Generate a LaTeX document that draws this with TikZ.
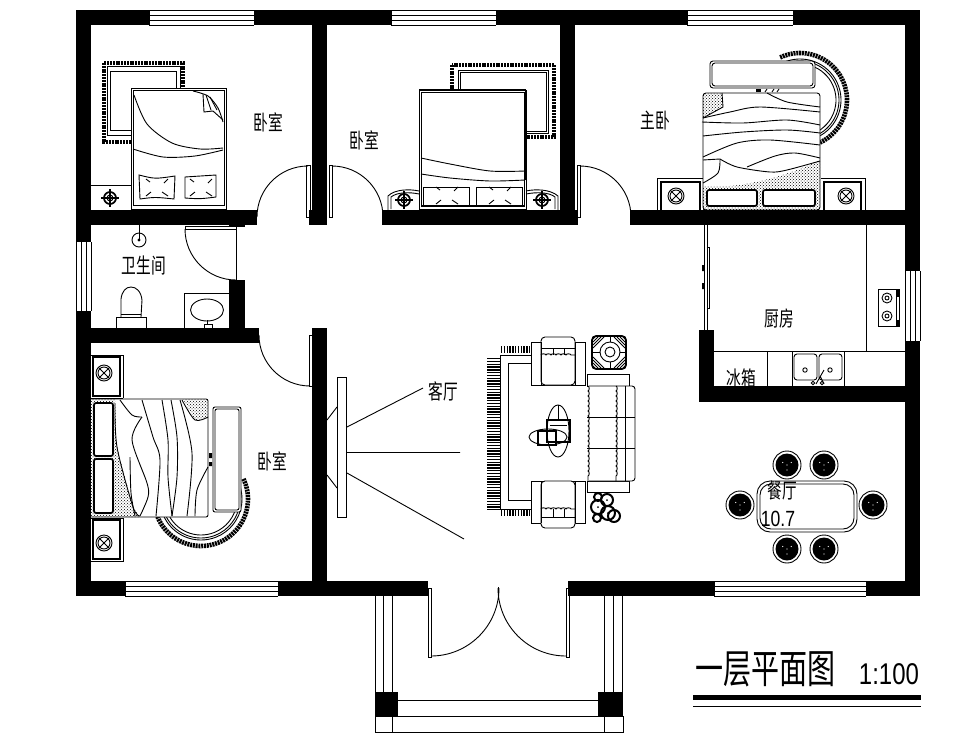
\documentclass[tikz,border=0pt]{standalone}
\usepackage{fontspec}
\setmainfont{Liberation Sans}
\newfontfamily\cjkthin[FakeStretch=.7]{Noto Sans CJK SC}
\newfontfamily\numthin[FakeStretch=.8]{Liberation Sans}
\usetikzlibrary{patterns,decorations.pathmorphing}

\tikzset{
	wallfill/.style={fill=black},
	fringe/.style={line width=4.6pt, dash pattern=on 2pt off .8pt},
	furn/.style={draw=black, fill=white},
	heavy/.style={line width=1.7pt},
	scallop/.style={decorate, decoration={bumps, segment length=10pt, amplitude=1.2pt}},
	dotted area/.style={pattern=crosshatch dots, pattern color=black},
	roomlabel/.style={inner sep=0pt, font=\fontsize{21}{21}\cjkthin},
}

\newcommand{\windowh}[3]{
	\foreach \d in {0,5,10,15}
		\draw (#1,#3+\d) -- (#2,#3+\d);
	\draw (#1,#3) -- (#1,#3+15) (#2,#3) -- (#2,#3+15);
}
\newcommand{\windowv}[3]{
	\foreach \d in {0,5,10,15}
		\draw (#3+\d,#1) -- (#3+\d,#2);
}
\newcommand{\knob}[2]{
	\draw[heavy] (#1,#2) circle (6pt);
	\draw[heavy] (#1-9,#2) -- (#1+9,#2) (#1,#2-9) -- (#1,#2+9);
	\draw (#1,#2) circle (3pt);
}
\newcommand{\crossknob}[3]{
	\draw (#1,#2) circle (#3pt) (#1,#2) circle (#3pt-2pt);
	\draw (#1,#2) ++(45:#3pt) -- ++(225:2*#3pt);
	\draw (#1,#2) ++(135:#3pt) -- ++(315:2*#3pt);
}
\newcommand{\seat}[2]{
	\draw (#1,#2) circle (14pt);
	\fill (#1,#2) circle (11.5pt);
	\foreach \a in {30,150,270}
		\fill[white] (#1,#2) ++(\a:5pt) circle (.6pt);
	\fill[white] (#1,#2) circle (.6pt);
}
\newcommand{\pillowtick}[2]{
	\draw (#1+6,#2+3) -- (#1+10,#2+6) (#1+28,#2+3) -- (#1+24,#2+7);
	\draw (#1+6,#2+20) -- (#1+11,#2+16) (#1+28,#2+20) -- (#1+22,#2+16);
}

\begin{document}
\begin{tikzpicture}[x=1pt, y=-1pt, line width=.9pt]
	\useasboundingbox[fill=white] (0,0) rectangle (972,742);
	
	% bedroom, top left
	\draw[fringe] (104,63) rectangle (183,142);
	\draw (107,66) rectangle (180,135) (110,71) rectangle (176,130);
	\draw[furn] (131,88) rectangle (226,209);
	\draw (133,90) rectangle (224,205);
	\draw plot[smooth] coordinates {(134,95) (147,124) (172,143) (200,149) (223,148)};
	\draw plot[smooth] coordinates {(133,149) (163,157) (195,156) (223,150)};
	\draw plot[smooth] coordinates {(193,91) (208,96) (218,108) (223,122)};
	\draw (203,94) -- (204,112) -- (213,111) -- (223,120) (206,95) -- (211,110) (210,97) -- (217,110);
	\draw (139,175) .. controls (155,179) .. (175,176) -- (174,199) .. controls (155,197) .. (140,199) -- cycle;
	\draw (185,177) .. controls (200,176) .. (216,175) -- (216,197) .. controls (200,199) .. (185,198) -- cycle;
	\pillowtick{140}{176}
	\pillowtick{184}{176}
	\draw (91,185) -- (131,185) -- (131,210);
	\knob{110}{198}
	
	% bedroom, top middle
	\draw[fringe] (452,65) rectangle (554,137);
	\draw (458,70) rectangle (548,133) (460,72) rectangle (546,131);
	\draw[furn] (419,90) rectangle (526,209);
	\draw (421,92) rectangle (524,206);
	\draw[heavy] (419,90) -- (526,90) (526,90) -- (526,180) (421,206) -- (524,206);
	\draw plot[smooth] coordinates {(421,158) (450,164) (490,171) (525,171)};
	\draw plot[smooth] coordinates {(421,174) (450,178) (490,181) (525,180)};
	\draw (423,187) rectangle (469,206) (476,187) rectangle (522,206);
	\pillowtick{430}{184}
	\pillowtick{483}{184}
	\draw (388,210) -- (388,196) .. controls (395,189) and (410,189) .. (419,191);
	\draw (391,209) -- (391,197) .. controls (397,192) and (410,192) .. (419,194);
	\draw (558,210) -- (558,196) .. controls (550,189) and (535,189) .. (526,191);
	\draw (555,209) -- (555,197) .. controls (549,192) and (536,192) .. (526,194);
	\knob{404}{200}
	\knob{542}{200}
	
	% master bedroom
	\draw[fringe] (800,100) ++(115:47pt) arc[start angle=115, end angle=-65, radius=47pt];
	\foreach \r in {41,39,36}
		\draw (800,100) ++(115:\r pt) arc[start angle=115, end angle=-65, radius=\r pt];
	\draw[furn, rounded corners=3pt] (710,61) rectangle (815,88);
	\draw[rounded corners=3pt] (712,63) rectangle (813,86);
	\draw[furn, rounded corners=3pt] (703,93) rectangle (820,210);
	\fill[dotted area] (703,93) -- (722,93) -- (723,107) -- (703,118) -- cycle;
	\fill[dotted area] (703,210) -- (703,186) .. controls (740,190) and (790,175) .. (820,160) -- (820,210) -- cycle;
	\draw plot[smooth] coordinates {(767,93) (787,102) (820,107)};
	\draw plot[smooth] coordinates {(703,118) (730,112) (760,107) (820,112)};
	\draw plot[smooth] coordinates {(702,122) (743,123) (787,120) (820,125)};
	\draw plot[smooth] coordinates {(703,136) (743,132) (787,130) (820,133)};
	\draw plot[smooth] coordinates {(703,157) (737,143) (770,140) (820,145)};
	\draw plot[smooth] coordinates {(747,167) (775,156) (795,153) (820,158)};
	\draw plot[smooth] coordinates {(720,159) (737,167) (770,172) (787,170) (820,161)};
	\draw plot[smooth] coordinates {(720,159) (718,173) (703,183)};
	\draw (703,160) -- (720,159) (722,93) -- (723,107) -- (703,118);
	\draw[furn, heavy, rounded corners=2pt] (707,190) rectangle (757,206);
	\draw[furn, heavy, rounded corners=2pt] (763,190) rectangle (815,206);
	\fill (756,89) rectangle (761,92);
	\draw (765,92) -- (767,89) (772,92) -- (774,89) (777,92) -- (779,89);
	\draw (657,210) -- (657,178) -- (703,178) (821,178) -- (865,178) -- (865,210);
	\draw[heavy] (661,210) -- (661,182) -- (700,182) -- (700,210);
	\draw[heavy] (824,210) -- (824,182) -- (861,182) -- (861,210);
	\crossknob{676}{196}{8}
	\crossknob{846}{196}{8}
	
	% bathroom
	\draw (139,225) -- (139,240);
	\draw (139,240) circle (7pt);
	\fill (139,240) circle (1.6pt);
	\draw (116,328) -- (116,317) -- (146,317) -- (146,328);
	\draw (121,317) -- (121,299) .. controls (122,291) and (126,287) .. (131,287) .. controls (136,287) and (141,291) .. (142,300) -- (141,317);
	\draw (121,314) -- (141,314);
	\draw (184,328) -- (184,293) -- (229,293);
	\draw (207,310) ellipse (16.5pt and 11pt);
	\draw (207,320) -- (207,325) (204,328) rectangle (212,324);
	
	% bedroom, bottom left
	\draw[fringe] (201,499) ++(202:47pt) arc[start angle=202, end angle=386, radius=47pt];
	\foreach \r in {41,39,36}
		\draw (201,499) ++(202:\r pt) arc[start angle=202, end angle=386, radius=\r pt];
	\draw (91,355) -- (123,355) -- (123,398) (91,398) -- (123,398);
	\draw[heavy] (93,357) rectangle (120,396);
	\draw (91,518) -- (123,518) -- (123,561) -- (91,561);
	\draw[heavy] (93,520) rectangle (120,559);
	\crossknob{104}{373}{8}
	\crossknob{104}{543}{8}
	\draw[furn, rounded corners=2pt] (91,399) -- (208,399) -- (208,517) -- (91,517);
	\fill[dotted area] (183,399) -- (208,399) -- (208,418) -- (195,420) -- cycle;
	\fill[dotted area] (91,399) -- (115,399) -- (117,447) -- (133,507) -- (140,517) -- (91,517) -- cycle;
	\draw plot[smooth] coordinates {(142,400) (153,437) (160,460) (156,516)};
	\draw plot[smooth] coordinates {(162,400) (168,440) (168,477) (172,516)};
	\draw plot[smooth] coordinates {(171,400) (177,437) (177,477) (172,516)};
	\draw plot[smooth] coordinates {(180,400) (192,453) (187,516)};
	\draw plot[smooth] coordinates {(208,467) (197,490) (195,516)};
	\draw plot[smooth] coordinates {(142,417) (132,440) (147,483) (148,497) (140,516)};
	\draw plot[smooth] coordinates {(120,400) (132,415) (142,417)};
	\draw plot[smooth] coordinates {(115,403) (117,447) (133,507) (140,516)};
	\draw plot[smooth] coordinates {(130,457) (131,493) (135,516)};
	\draw plot[smooth] coordinates {(182,400) (195,420) (208,417)};
	\draw[furn, heavy, rounded corners=2pt] (94,403) rectangle (113,456);
	\draw[furn, heavy, rounded corners=2pt] (94,459) rectangle (113,513);
	\draw[furn, rounded corners=2pt] (213,407) rectangle (241,512);
	\draw[rounded corners=2pt] (215,409) rectangle (239,510);
	\fill (209,453) rectangle (212,458) (209,462) rectangle (212,466);
	
	% doors
	\draw (308,217) ++(180:51pt) arc[start angle=180, end angle=90, radius=51pt];
	\draw (306.5,165) rectangle (310,217);
	\draw (332,217) ++(0:51pt) arc[start angle=0, end angle=90, radius=51pt];
	\draw (329,165) rectangle (332,217);
	\draw (580,217) ++(0:51pt) arc[start angle=0, end angle=90, radius=51pt];
	\draw (577,165) rectangle (580,217);
	\draw (236,229) ++(180:51pt) arc[start angle=180, end angle=270, radius=51pt];
	\draw (185,226) rectangle (236,229);
	\draw (236,229) -- (236,280);
	\draw (310,335) ++(180:51pt) arc[start angle=180, end angle=270, radius=51pt];
	\draw (309,335) rectangle (312,386);
	\draw (431,588) ++(270:68pt) arc[start angle=270, end angle=360, radius=68pt];
	\draw (566,588) ++(270:68pt) arc[start angle=270, end angle=180, radius=68pt];
	\draw (428,588) rectangle (431,657);
	\draw (566,588) rectangle (569,657);
	\draw (498.5,587) -- (498.5,600);
	
	% porch
	\foreach \x in {375,383,392,604,613,622}
		\draw (\x,596) -- (\x,692);
	\draw (375,716) rectangle (623,732);
	\draw (392,716) -- (392,732) (604,716) -- (604,732);
	\draw (398,700) -- (598,700);
	
	% walls
	\foreach \xa/\ya/\xb/\yb in {76/10/149/25, 254/10/391/25, 496/10/687/25, 793/10/920/25,
		76/25/91/242, 76/311/91/596, 905/25/920/271, 905/341/920/596,
		76/581/125/596, 278/581/428/596, 568/581/714/596, 866/581/920/596,
		312/25/327/225, 312/328/327/581, 309/210/327/225, 560/25/575/225,
		91/210/257/225, 382/210/578/225, 630/210/905/225,
		229/225/245/227, 229/280/245/343, 91/328/259/343,
		699/330/714/402, 699/386/905/402,
		375/692/398/717, 598/692/623/717}
		\fill[wallfill] (\xa,\ya) rectangle (\xb,\yb);
	
	% windows
	\windowh{149}{254}{10}
	\windowh{391}{496}{10}
	\windowh{687}{793}{10}
	\windowh{125}{278}{581}
	\windowh{714}{866}{581}
	\windowv{242}{311}{76}
	\windowv{271}{341}{905}
	
	% kitchen
	\draw (704,225) -- (704,330) (707,225) -- (707,330);
	\draw (707,247) -- (709,247) -- (709,308) -- (707,308);
	\fill (702,265) rectangle (704,271) (702,283) rectangle (704,289);
	\draw (866,225) -- (866,351);
	\draw (714,351) -- (905,351);
	\draw (767,351) -- (767,386);
	\draw (792,351) -- (792,386) (844,351) -- (844,386);
	\draw[rounded corners=3pt] (794,354) rectangle (817,380) (819,354) rectangle (842,380);
	\draw (805,370) circle (2.2pt) (830,370) circle (2.2pt);
	\draw (824,370) -- (816,384) (820,376) -- (824,384);
	\draw (813,383) circle (1.8pt) (822,383) circle (1.8pt);
	\draw (878,289) rectangle (899,326);
	\foreach \y in {298,316}
		\draw (887,\y) circle (5pt) (887,\y) circle (2pt);
	\fill (896,289) rectangle (899,296) (896,320) rectangle (899,326);
	\draw (896,296) rectangle (899,320);
	
	% living room
	\draw (347,427) -- (423,388) (347,452.5) -- (460,452.5) (347,473) -- (464,539);
	\draw (327,420) -- (337,407) (327,475) -- (337,488);
	\draw (337,377) rectangle (346.5,517);
	\draw[line width=13pt, dash pattern=on 1.4pt off 1.4pt] (493.5,358) -- (493.5,510);
	\draw[line width=7pt, dash pattern=on 1.4pt off 1.4pt] (501,349.5) -- (530,349.5);
	\draw[line width=7pt, dash pattern=on 1.4pt off 1.4pt] (501,512.5) -- (530,512.5);
	\draw (531,355) -- (500,355) -- (500,509) -- (531,509);
	\draw (531,363) -- (508,363) -- (508,500) -- (531,500);
	\draw[furn] (531,342) rectangle (585,385);
	\draw[furn, rounded corners=4pt] (541,337) rectangle (575,385);
	\draw (541,342) -- (541,385) (575,342) -- (575,385);
	\draw[scallop] (541,355) -- (575,355);
	\draw (541,348) -- (575,348) (553,348) -- (553,355) (564,348) -- (564,355);
	\draw[furn] (531,481) rectangle (585,523);
	\draw[furn, rounded corners=4pt] (541,481) rectangle (575,528);
	\draw (541,481) -- (541,523) (575,481) -- (575,523);
	\draw[scallop] (541,509) -- (575,509);
	\draw (541,517) -- (575,517) (553,509) -- (553,517) (564,509) -- (564,517);
	\draw[furn, heavy, rounded corners=4pt] (592,336) rectangle (626,369);
	\foreach \d in {3,6,9,12}{
		\draw (592+\d,337) -- (593,336+\d) (626-\d,337) -- (625,336+\d);
		\draw (592+\d,368) -- (593,369-\d) (626-\d,368) -- (625,369-\d);
	}
	\draw[furn] (610,352) circle (10pt);
	\draw (610,352) circle (5pt);
	\draw (610,336) -- (610,342) (610,362) -- (610,369) (592,352) -- (600,352) (620,352) -- (626,352);
	\draw[furn] (587,374) rectangle (629,386);
	\draw[furn] (587,481) rectangle (629,492);
	\draw[furn, rounded corners=3pt] (589,386) -- (635,386) -- (635,481) -- (589,481);
	\draw (587,417) -- (635,417) (587,448) -- (635,448);
	\draw[scallop] (616,386) -- (616,481);
	\draw (625,386) -- (625,481);
	\draw[scallop] (588,386) -- (588,481);
	\draw (558,431) ellipse (11pt and 26pt);
	\draw (548,437) ellipse (19pt and 8pt);
	\draw[heavy] (547,420) rectangle (570,442);
	\draw[heavy] (538,431) rectangle (556,445);
	\draw (550,425) -- (567,425) (558,405) -- (558,420);
	\foreach \x/\y/\r in {607/500/6, 598/507/7, 608/513/7, 614/516/6, 597/518/4, 598/497/4}
		\draw[line width=2pt] (\x,\y) circle (\r pt);
	\foreach \x/\y in {607/500, 598/507, 608/513}
		\fill (\x,\y) circle (1pt);
	
	% dining room
	\draw[rounded corners=13pt] (757,481) rectangle (857,532);
	\draw[rounded corners=11pt] (760,484) rectangle (854,529);
	\foreach \x/\y in {787/465, 824/465, 787/549, 824/549, 740/505, 873/505}
		{\seat{\x}{\y}}
	
	% labels
	\node[roomlabel] (bedA) at (268,122) {卧室};
	\node[roomlabel] (bedB) at (364,140) {卧室};
	\node[roomlabel] (bedC) at (655,120) {主卧};
	\node[roomlabel] (bath) at (144,266) {卫生间};
	\node[roomlabel] (bedD) at (272,461) {卧室};
	\node[roomlabel] (living) at (443,391) {客厅};
	\node[roomlabel] (kitchen) at (779,318) {厨房};
	\node[roomlabel] (fridge) at (741,378) {冰箱};
	\node[roomlabel] (dining) at (782,490) {餐厅};
	\node[inner sep=0pt, font=\fontsize{22}{22}\numthin] (area) at (778,519) {10.7};
	\node[inner sep=0pt, font=\fontsize{40}{40}\cjkthin] (title) at (765,669) {一层平面图};
	\node[inner sep=0pt, font=\fontsize{30}{30}\numthin] (scale) at (889,674) {1:100};
	\fill (693,695) rectangle (921,700);
	\draw (693,706) -- (921,706);
\end{tikzpicture}
\end{document}
